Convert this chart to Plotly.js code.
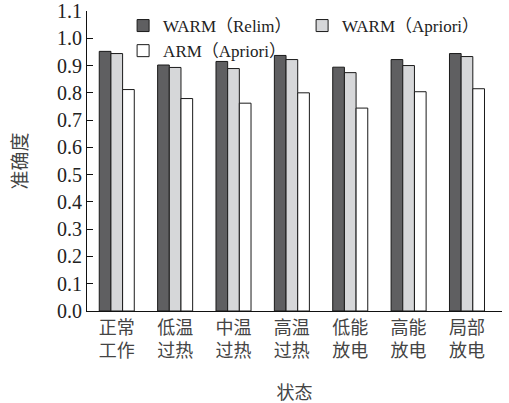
<!DOCTYPE html>
<html>
<head>
<meta charset="utf-8">
<script src="https://cdn.plot.ly/plotly-3.0.1.min.js"></script>
<style>html,body{margin:0;padding:0;background:#fff;}#chart{width:509px;height:403px;}</style>
</head>
<body>
<div id="chart"></div>
<script>
var categories = ["正常<br>工作", "低温<br>过热", "中温<br>过热", "高温<br>过热", "低能<br>放电", "高能<br>放电", "局部<br>放电"];
var seriesNames = ["WARM（Relim）", "WARM（Apriori）", "ARM（Apriori）"];
var warmRelim = [0.952, 0.902, 0.915, 0.937, 0.894, 0.922, 0.944];
var warmApriori = [0.944, 0.893, 0.889, 0.922, 0.874, 0.900, 0.933];
var armApriori = [0.812, 0.779, 0.762, 0.800, 0.744, 0.804, 0.815];
var yTicks = [0, 0.1, 0.2, 0.3, 0.4, 0.5, 0.6, 0.7, 0.8, 0.9, 1.0, 1.1];
var xTitle = "状态";
var yTitle = "准确度";

var colors = ["#5f5f61", "#d6d7d9", "#ffffff"];
var series = [warmRelim, warmApriori, armApriori];
var traces = series.map(function (vals, i) {
  return {
    type: "bar",
    name: seriesNames[i],
    x: categories,
    y: vals,
    marker: {color: colors[i], line: {color: "#1a1a1a", width: 1}}
  };
});

var serif = "'Liberation Serif', 'Noto Sans CJK SC', serif";
var cjkLabel = "'Liberation Serif', 'Noto Sans CJK SC', sans-serif";

var layout = {
  width: 509, height: 403,
  margin: {l: 87, r: 7, t: 11, b: 92},
  paper_bgcolor: "#fff", plot_bgcolor: "#fff",
  barmode: "group",
  bargap: 0.4,
  bargroupgap: 0,
  showlegend: true,
  legend: {
    orientation: "h",
    x: 0.087, xanchor: "left",
    y: 1.01, yanchor: "top",
    entrywidth: 134, entrywidthmode: "pixels",
    font: {family: serif, size: 17, color: "#222"},
    bgcolor: "rgba(0,0,0,0)",
    tracegroupgap: 0,
    itemwidth: 30
  },
  xaxis: {
    type: "category",
    range: [-0.51, 6.6],
    showline: true, linecolor: "#111", linewidth: 1,
    ticks: "", showgrid: false, zeroline: false,
    tickfont: {family: cjkLabel, size: 18, color: "#444"},
    title: {text: xTitle, font: {family: cjkLabel, size: 18, color: "#444"}, standoff: 26}
  },
  yaxis: {
    range: [0, 1.1],
    tickvals: yTicks,
    tickformat: ".1f",
    showline: true, linecolor: "#111", linewidth: 1,
    ticks: "inside", ticklen: 6, tickcolor: "#111",
    showgrid: false, zeroline: false,
    tickfont: {family: serif, size: 20, color: "#222"},
    title: {text: yTitle, font: {family: cjkLabel, size: 19, color: "#444"}, standoff: 24}
  }
};

Plotly.newPlot("chart", traces, layout, {displayModeBar: false, staticPlot: true});
</script>
</body>
</html>
